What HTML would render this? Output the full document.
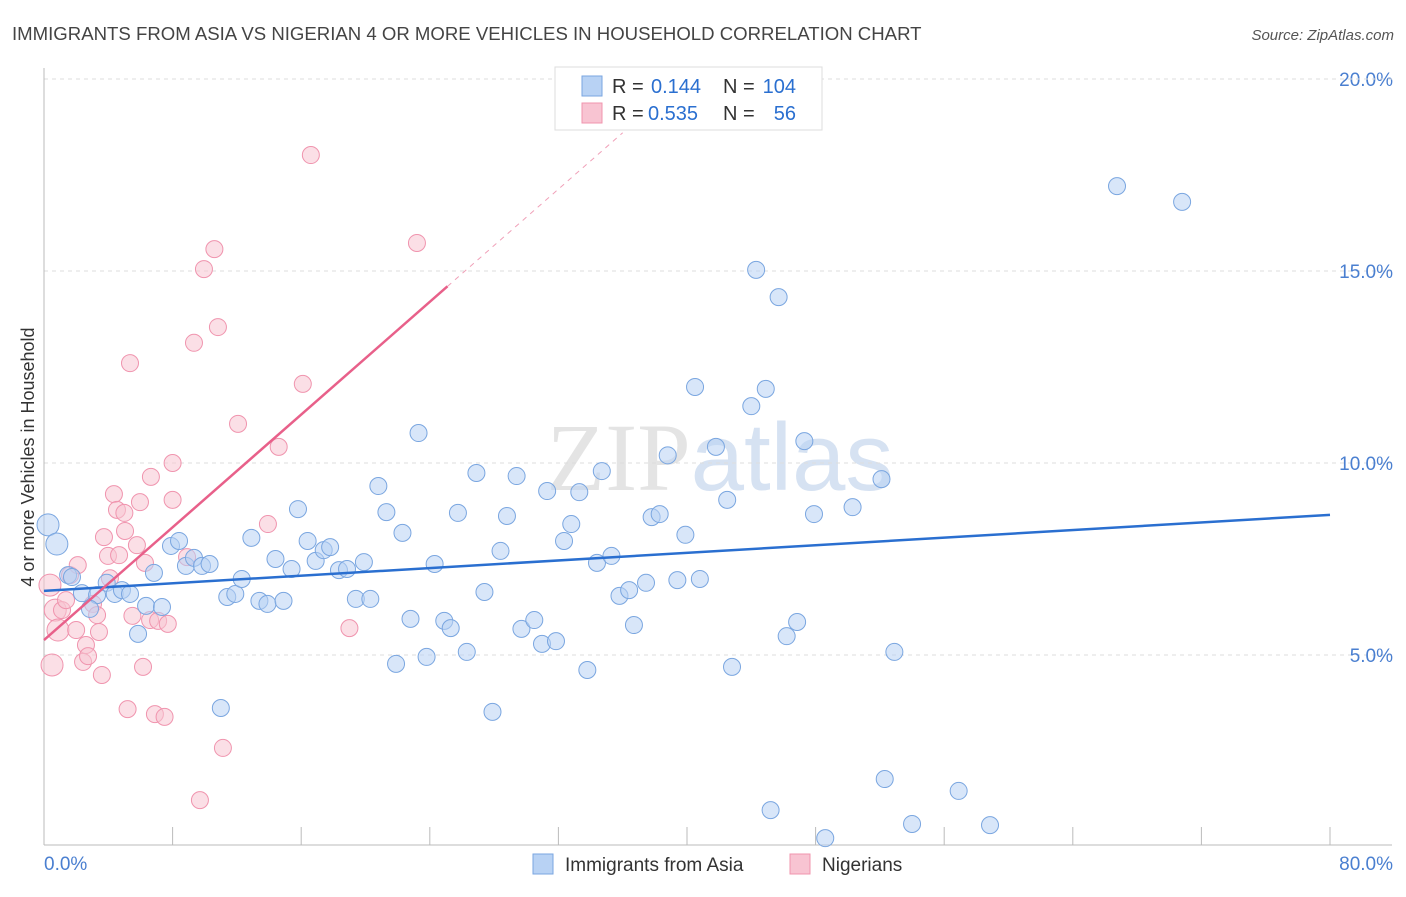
<!DOCTYPE html>
<html><head><meta charset="utf-8"><style>
body{margin:0;background:#fff;font-family:"Liberation Sans",sans-serif}
</style></head><body>
<svg id="chart" width="1406" height="892" xmlns="http://www.w3.org/2000/svg" font-family="Liberation Sans, sans-serif">
<text x="12" y="40" font-size="18.6" fill="#444">IMMIGRANTS FROM ASIA VS NIGERIAN 4 OR MORE VEHICLES IN HOUSEHOLD CORRELATION CHART</text>
<text x="1394" y="40" font-size="15" fill="#555" font-style="italic" text-anchor="end">Source: ZipAtlas.com</text>
<text x="720" y="490" font-size="96" fill="#e4e4e4" text-anchor="middle" font-family="Liberation Serif, serif">ZIP<tspan fill="#d6e2f2" font-family="Liberation Sans, sans-serif">atlas</tspan></text>
<g id="grid"></g><g id="axes"></g><g id="pts"></g><g id="trends"></g>
<text transform="translate(34,457) rotate(-90)" font-size="18" fill="#333" text-anchor="middle">4 or more Vehicles in Household</text>
<g>
<rect x="555" y="67" width="267" height="63" fill="#fff" stroke="#ddd"/>
<rect x="582" y="76" width="20" height="20" fill="#b8d2f4" stroke="#7aa6e0"/>
<text x="612" y="93" font-size="20" fill="#333">R =</text>
<text x="651" y="93" font-size="20" fill="#2a6fd0">0.144</text>
<text x="723" y="93" font-size="20" fill="#333">N =</text>
<text x="796" y="93" font-size="20" fill="#2a6fd0" text-anchor="end">104</text>
<rect x="582" y="103" width="20" height="20" fill="#f8c4d2" stroke="#f094ae"/>
<text x="612" y="120" font-size="20" fill="#333">R =</text>
<text x="648" y="120" font-size="20" fill="#2a6fd0">0.535</text>
<text x="723" y="120" font-size="20" fill="#333">N =</text>
<text x="796" y="120" font-size="20" fill="#2a6fd0" text-anchor="end">56</text>
</g>
<g>
<rect x="533" y="854" width="20" height="20" fill="#b8d2f4" stroke="#7aa6e0"/>
<text x="565" y="871" font-size="19" fill="#333">Immigrants from Asia</text>
<rect x="790" y="854" width="20" height="20" fill="#f8c4d2" stroke="#f094ae"/>
<text x="822" y="871" font-size="19" fill="#333">Nigerians</text>
</g>
</svg>
<script>
const yTicks=[5,10,15,20];
const yTickLabels=["5.0%","10.0%","15.0%","20.0%"];
const xTickLabels=["0.0%","80.0%"];
const asiaX=[0.25,0.8,1.5,1.74,2.36,3.3,2.86,3.9,4.4,4.85,5.35,5.85,6.35,6.84,7.34,7.9,8.4,8.83,9.33,9.83,10.3,11.0,11.4,11.9,12.3,12.9,13.4,13.9,14.4,14.9,15.4,15.8,16.4,16.9,17.4,17.8,18.35,18.85,19.4,19.9,20.3,20.8,21.3,21.9,22.3,22.8,23.3,23.8,24.3,24.9,25.3,25.75,26.3,26.9,27.4,27.9,28.4,28.8,29.4,29.7,30.5,30.98,31.3,31.85,32.35,32.8,33.3,33.8,34.4,34.7,35.3,35.8,36.4,36.7,37.45,37.8,38.3,38.8,39.4,39.9,40.5,40.8,41.8,42.5,42.8,44.0,44.3,44.9,45.2,45.7,46.2,46.85,47.3,47.9,48.6,50.3,52.1,52.3,52.9,54.0,56.9,58.85,66.75,70.8];
const asiaY=[8.39,7.89,7.08,7.03,6.61,6.56,6.2,6.88,6.59,6.69,6.59,5.55,6.28,7.14,6.25,7.84,7.97,7.32,7.53,7.32,7.37,3.62,6.51,6.59,6.98,8.05,6.41,6.33,7.5,6.41,7.24,8.8,7.97,7.45,7.73,7.81,7.21,7.24,6.46,7.42,6.46,9.4,8.72,4.77,8.18,5.94,10.78,4.95,7.37,5.89,5.7,8.7,5.08,9.74,6.64,3.52,7.71,8.62,9.66,5.68,5.91,5.29,9.27,5.36,7.97,8.41,9.24,4.61,7.4,9.79,7.58,6.54,6.69,5.78,6.88,8.59,8.67,10.2,6.95,8.13,11.98,6.98,10.42,9.04,4.69,11.48,15.03,11.93,0.96,14.32,5.49,5.86,10.57,8.67,0.23,8.85,9.58,1.77,5.08,0.6,1.46,0.57,17.21,16.8];
const nigX=[0.37,0.5,0.7,0.87,1.12,1.37,1.62,2.0,2.1,2.43,2.61,2.74,3.05,3.3,3.42,3.6,3.73,3.98,4.1,4.35,4.54,4.67,5.0,5.04,5.2,5.35,5.5,5.78,5.97,6.16,6.28,6.6,6.65,6.9,7.1,7.5,7.7,8.0,8.0,8.9,9.33,9.7,9.95,10.6,10.82,11.13,12.07,13.93,14.6,16.1,16.6,19.0,23.2];
const nigY=[6.82,4.74,6.17,5.65,6.17,6.43,7.08,5.65,7.34,4.82,5.26,4.97,6.33,6.04,5.6,4.48,8.07,7.58,7.0,9.19,8.78,7.6,8.7,8.23,3.59,12.6,6.02,7.86,8.98,4.69,7.4,5.91,9.64,3.46,5.89,3.39,5.81,9.04,10.0,7.55,13.13,1.22,15.05,15.57,13.54,2.58,11.02,8.41,10.42,12.06,18.02,5.7,15.73];
const asiaTrend=[6.67,8.65];
const nigTrend=[5.39,14.6];
const NS="http://www.w3.org/2000/svg";
const xs=v=>44+v/80*1286, ys=v=>847-v*38.4;
function mk(p,t,a){const e=document.createElementNS(NS,t);for(const k in a)e.setAttribute(k,a[k]);document.getElementById(p).appendChild(e);return e;}
yTicks.forEach((t,i)=>{
 const l=mk('grid','line',{x1:44,x2:1392,y1:ys(t),y2:ys(t),stroke:'#ddd','stroke-dasharray':'4,4'});
 
 
 const tx=mk('grid','text',{x:1393,y:ys(t)+7,'font-size':19,fill:'#4a7fd0','text-anchor':'end'});
 tx.textContent=yTickLabels[i];
 
 
});
const topGrid=mk('grid','line',{x1:44,x2:1392,y1:79,y2:79,stroke:'#ddd','stroke-dasharray':'4,4'});


const ax=mk('axes','line',{x1:44,x2:1392,y1:845,y2:845,stroke:'#bbb'});


const yl=mk('axes','line',{x1:44,x2:44,y1:68,y2:845,stroke:'#bbb'});


for(let i=0;i<=10;i++){const t=mk('axes','line',{x1:xs(i*8),x2:xs(i*8),y1:827,y2:845,stroke:'#bbb'});
 
 }
[[0,'start',44],[80,'end',1393]].forEach((d,i)=>{const t=mk('axes','text',{x:d[2],y:870,'font-size':19,fill:'#4a7fd0','text-anchor':d[1]});t.textContent=xTickLabels[i];
 
 });
function pts(X,Y,f,s,n){X.forEach((x,i)=>{const r=(x<1)?11:8.5;const c=mk('pts','circle',{cx:xs(x),cy:ys(Y[i]),r:r,fill:f,'fill-opacity':0.55,stroke:s,'stroke-width':1});
 
 });}
pts(nigX,nigY,'#f8c4d2','#f094ae','nigerian-point');
pts(asiaX,asiaY,'#b8d2f4','#7aa6e0','asia-point');
const bt=mk('trends','line',{x1:xs(0),y1:ys(asiaTrend[0]),x2:xs(80),y2:ys(asiaTrend[1]),stroke:'#2a6fd0','stroke-width':2.5});


const slope=(nigTrend[1]-nigTrend[0])/25.1;
const pt=mk('trends','line',{x1:xs(0),y1:ys(nigTrend[0]),x2:xs(25.1),y2:ys(nigTrend[1]),stroke:'#e8608a','stroke-width':2.5});


const pd=mk('trends','line',{x1:xs(25.1),y1:ys(nigTrend[1]),x2:xs(36),y2:ys(nigTrend[0]+slope*36),stroke:'#f0a0b8','stroke-width':1,'stroke-dasharray':'5,5'});


</script>
</body></html>
